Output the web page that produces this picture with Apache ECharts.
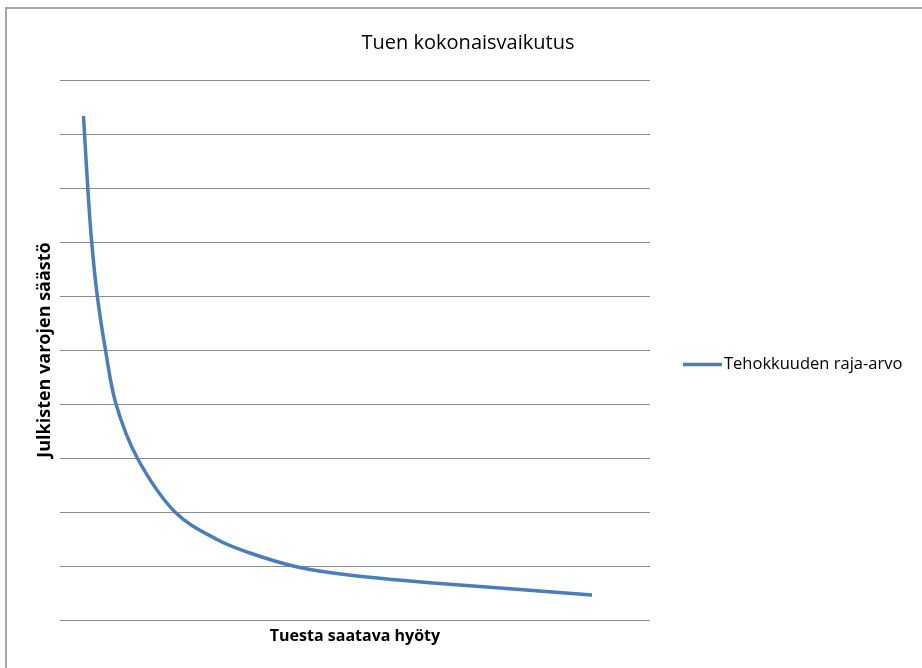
<!DOCTYPE html>
<html>
<head>
<meta charset="utf-8">
<script src="https://cdn.jsdelivr.net/npm/echarts@6/dist/echarts.min.js"></script>
<style>html,body{margin:0;padding:0;background:#fff;}#c{width:922px;height:668px;}</style>
</head>
<body>
<div id="c"></div>
<script>
var titleText = 'Tuen kokonaisvaikutus';
var xAxisName = 'Tuesta saatava hyöty';
var yAxisName = 'Julkisten varojen säästö';
var seriesName = 'Tehokkuuden raja-arvo';
var xValues = [3.98, 4.71, 5.37, 6.32, 7.71, 9.49, 13.10, 19.49, 26.78, 32.20, 39.54, 46.27, 54.24, 63.22, 74.58, 90.17];
var yValues = [93.33, 80.0, 70.0, 60.0, 50.0, 40.0, 30.0, 20.0, 14.81, 12.41, 10.0, 8.70, 7.72, 6.85, 5.93, 4.63];

var data = xValues.map(function (x, i) { return [x, yValues[i]]; });
var font = '"Open Sans", Lato, sans-serif';
var chart = echarts.init(document.getElementById('c'), null, {renderer: 'canvas'});
chart.setOption({
  animation: false,
  backgroundColor: '#ffffff',
  title: {
    text: titleText, left: 463, top: 28, textAlign: 'center',
    textStyle: {fontFamily: font, fontSize: 20, fontWeight: 'normal', color: '#000'}
  },
  legend: {
    left: 683, top: 356, padding: 0, icon: 'rect', itemWidth: 39, itemHeight: 3.5, itemGap: 0,
    textStyle: {fontFamily: font, fontSize: 16.5, color: '#000', padding: [0, 0, 0, -3]},
    data: [seriesName]
  },
  grid: {left: 60, right: 272, top: 80, bottom: 48, containLabel: false},
  xAxis: {
    type: 'value', min: 0, max: 100,
    name: xAxisName, nameLocation: 'middle', nameGap: 8,
    nameTextStyle: {fontFamily: font, fontSize: 16, fontWeight: 'bold', color: '#000', verticalAlign: 'top'},
    axisLine: {show: false}, axisTick: {show: false}, axisLabel: {show: false}, splitLine: {show: false}
  },
  yAxis: {
    type: 'value', min: 0, max: 100, interval: 10,
    name: yAxisName, nameLocation: 'middle', nameGap: 6,
    nameTextStyle: {fontFamily: font, fontSize: 18, fontWeight: 'bold', color: '#000'},
    axisLine: {show: false}, axisTick: {show: false}, axisLabel: {show: false},
    splitLine: {show: true, lineStyle: {color: '#8c8c8c', width: 1}}
  },
  graphic: [{
    type: 'rect', shape: {x: 6, y: 8, width: 940, height: 700},
    style: {fill: 'none', stroke: '#a6a6a6', lineWidth: 2}, silent: true
  }],
  series: [{
    name: seriesName, type: 'line', data: data, smooth: 0.35, showSymbol: false,
    lineStyle: {color: '#4a7ebb', width: 3.5}, itemStyle: {color: '#4a7ebb'}
  }]
});
</script>
</body>
</html>
